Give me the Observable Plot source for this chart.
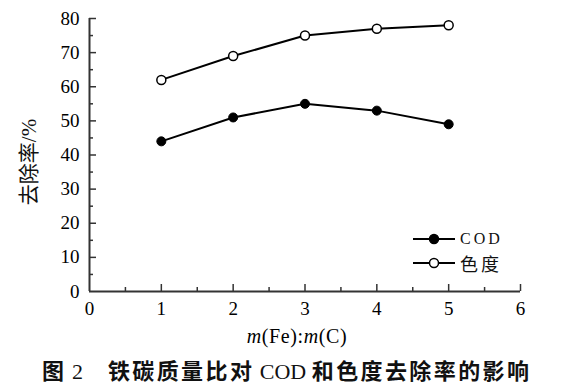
<!DOCTYPE html>
<html>
<head>
<meta charset="utf-8">
<script src="https://cdn.jsdelivr.net/npm/d3@7"></script>
<script src="https://cdn.jsdelivr.net/npm/@observablehq/plot@0.6"></script>
<style>
  html, body { margin: 0; padding: 0; background: #fff; }
  #wrap { position: relative; width: 588px; height: 386px; overflow: hidden; background: #fff; }
  .serif { font-family: "Liberation Serif", "Times New Roman", serif; }
  .cjk { font-family: "Noto Sans CJK SC", sans-serif; }
  #ytitle { position: absolute; left: 28px; top: 162px; transform: translate(-50%, -50%) rotate(-90deg); white-space: nowrap; font-size: 21px; color: #111; line-height: 1; }
  #xtitle { position: absolute; left: 297px; top: 336px; transform: translate(-50%, -50%); white-space: nowrap; font-size: 20px; letter-spacing: 0.6px; color: #000; line-height: 1; }
  #caption { position: absolute; left: 42px; top: 370px; transform: translate(0, -50%); white-space: nowrap; font-size: 22px; color: #111; line-height: 1; }
  #caption .cjk { font-weight: bold; letter-spacing: 2.4px; }
  #legend { position: absolute; left: 413px; top: 227px; }
  .lrow { display: flex; align-items: center; height: 24px; }
  .lrow svg { display: block; }
  .ltext { margin-left: 5px; color: #111; line-height: 1; }
</style>
</head>
<body>
<div id="wrap"></div>
<script>
// ---- data ----
const ratio = [1, 2, 3, 4, 5];
const codRemoval = [44, 51, 55, 53, 49];
const colorRemoval = [62, 69, 75, 77, 78];
const seriesNames = ["COD", "色度"];
const xTicks = [0, 1, 2, 3, 4, 5, 6];
const xMinor = [0.5, 1.5, 2.5, 3.5, 4.5, 5.5];
const yTicks = [0, 10, 20, 30, 40, 50, 60, 70, 80];
const yMinor = [5, 15, 25, 35, 45, 55, 65, 75];

const codData = ratio.map((r, i) => ({ x: r, y: codRemoval[i], s: seriesNames[0] }));
const colData = ratio.map((r, i) => ({ x: r, y: colorRemoval[i], s: seriesNames[1] }));

const W = 588, H = 320, mL = 89, mR = 68, mT = 18, mB = 29;
const frameH = H - mT - mB, frameW = W - mL - mR;
const axisColor = "#333";
const serif = "'Liberation Serif', 'Times New Roman', serif";

const chart = Plot.plot({
  width: W, height: H,
  marginLeft: mL, marginRight: mR, marginTop: mT, marginBottom: mB,
  x: { domain: [0, 6] },
  y: { domain: [0, 80] },
  style: { fontFamily: serif, fontSize: "19px", color: "#000", background: "#fff" },
  marks: [
    Plot.axisX(xTicks, { tickSize: 0, tickPadding: 10, fontSize: 19, fontFamily: serif, fill: "#000", label: null }),
    Plot.axisY(yTicks, { tickSize: 0, tickPadding: 10, fontSize: 19, fontFamily: serif, fill: "#000", label: null }),
    Plot.tickX(xTicks.filter(d => d > 0), { x: d => d, insetTop: frameH - 7, stroke: axisColor, strokeWidth: 1.5 }),
    Plot.tickX(xMinor, { x: d => d, insetTop: frameH - 4, stroke: axisColor, strokeWidth: 1.5 }),
    Plot.tickY(yTicks.filter(d => d > 0), { y: d => d, insetRight: frameW - 7, stroke: axisColor, strokeWidth: 1.5 }),
    Plot.tickY(yMinor, { y: d => d, insetRight: frameW - 4, stroke: axisColor, strokeWidth: 1.5 }),
    Plot.ruleY([0], { stroke: axisColor, strokeWidth: 2 }),
    Plot.ruleX([0], { stroke: axisColor, strokeWidth: 2 }),
    Plot.line(colData, { x: "x", y: "y", stroke: "#000", strokeWidth: 2 }),
    Plot.line(codData, { x: "x", y: "y", stroke: "#000", strokeWidth: 2 }),
    Plot.dot(colData, { x: "x", y: "y", r: 4.5, fill: "#fff", stroke: "#000", strokeWidth: 1.5 }),
    Plot.dot(codData, { x: "x", y: "y", r: 4.5, fill: "#000", stroke: "#000", strokeWidth: 1 })
  ]
});

// force serif font on all svg text (tick labels)
d3.select(chart).style("font-family", serif);
d3.select(chart).selectAll("g").attr("font-family", null);
d3.select(chart).selectAll("text").attr("font-family", null).style("font-family", serif);

const wrap = document.getElementById("wrap");
wrap.appendChild(chart);

function legendSwatch(filled) {
  return `<svg width="42" height="12"><line x1="0" y1="6" x2="42" y2="6" stroke="#000" stroke-width="2"/>` +
    `<circle cx="21" cy="6" r="4.5" fill="${filled ? "#000" : "#fff"}" stroke="#000" stroke-width="1.5"/></svg>`;
}

wrap.insertAdjacentHTML("beforeend", `
  <div id="ytitle"><span class="cjk">去除率</span><span class="serif">/%</span></div>
  <div id="xtitle" class="serif"><i>m</i>(Fe):<i>m</i>(C)</div>
  <div id="legend">
    <div class="lrow">${legendSwatch(true)}<span class="ltext serif" style="font-size:16px;letter-spacing:3px">${seriesNames[0]}</span></div>
    <div class="lrow">${legendSwatch(false)}<span class="ltext cjk" style="font-size:18px;letter-spacing:3px">${seriesNames[1]}</span></div>
  </div>
  <div id="caption"><span class="cjk">图</span><span class="serif"> 2</span><span style="display:inline-block;width:25px"></span><span class="cjk">铁碳质量比对</span><span class="serif"> COD </span><span class="cjk">和色度去除率的影响</span></div>
`);
chart.style.position = "absolute";
chart.style.left = "0";
chart.style.top = "0";
</script>
</body>
</html>
